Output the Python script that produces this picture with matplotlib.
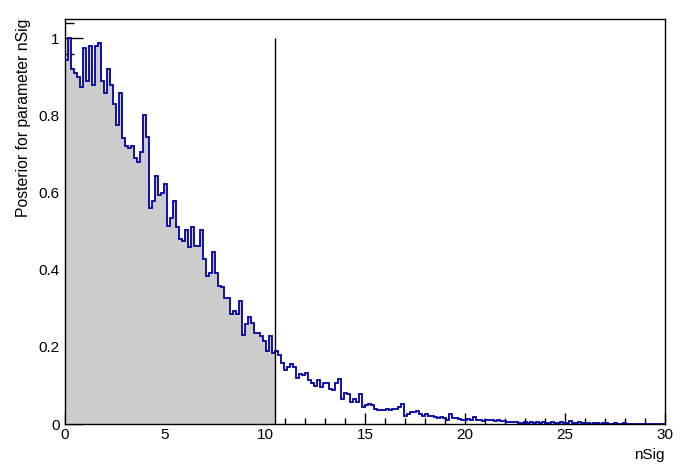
import numpy as np
import matplotlib
matplotlib.use("Agg")
import matplotlib.pyplot as plt
from matplotlib.ticker import MultipleLocator, FormatStrFormatter

plt.rcParams['font.family'] = ['Liberation Sans', 'DejaVu Sans']

# posterior histogram, 200 bins of width 0.15 on [0, 30]
x_min, x_max = 0.0, 30.0
posterior = [
    0.945, 1.0, 0.92, 0.91, 0.90, 0.875, 0.974, 0.89, 0.98, 0.88,
    0.98, 0.987, 0.89, 0.857, 0.92, 0.88, 0.83, 0.775, 0.857, 0.742,
    0.72, 0.716, 0.72, 0.69, 0.679, 0.705, 0.80, 0.743, 0.56, 0.577,
    0.642, 0.595, 0.598, 0.623, 0.514, 0.534, 0.577, 0.511, 0.48, 0.474,
    0.502, 0.459, 0.512, 0.462, 0.462, 0.504, 0.428, 0.383, 0.391, 0.445,
    0.391, 0.358, 0.356, 0.326, 0.326, 0.285, 0.292, 0.285, 0.32, 0.231,
    0.26, 0.277, 0.261, 0.237, 0.237, 0.227, 0.214, 0.188, 0.227, 0.184,
    0.19, 0.178, 0.159, 0.14, 0.147, 0.155, 0.149, 0.119, 0.13, 0.127,
    0.131, 0.113, 0.106, 0.099, 0.113, 0.095, 0.106, 0.106, 0.092, 0.087,
    0.106, 0.116, 0.064, 0.08, 0.077, 0.056, 0.064, 0.058, 0.078, 0.045,
    0.048, 0.052, 0.048, 0.038, 0.036, 0.037, 0.036, 0.039, 0.037, 0.040,
    0.039, 0.044, 0.051, 0.022, 0.025, 0.030, 0.032, 0.034, 0.027, 0.022,
    0.025, 0.022, 0.020, 0.017, 0.016, 0.017, 0.016, 0.010, 0.027, 0.015,
    0.015, 0.013, 0.011, 0.011, 0.013, 0.010, 0.018, 0.010, 0.010, 0.007,
    0.010, 0.010, 0.011, 0.007, 0.010, 0.007, 0.007, 0.004, 0.006, 0.004,
    0.004, 0.003, 0.003, 0.004, 0.003, 0.005, 0.003, 0.004, 0.002, 0.004,
    0.003, 0.003, 0.005, 0.002, 0.003, 0.004, 0.002, 0.003, 0.008, 0.003,
    0.002, 0.004, 0.002, 0.003, 0.002, 0.001, 0.003, 0.002, 0.001, 0.002,
    0.002, 0.001, 0.001, 0.002, 0.001, 0.001, 0.002, 0.001, 0.001, 0.001,
    0.0, 0.001, 0.001, 0.0, 0.001, 0.0, 0.0, 0.001, 0.0, 0.0,
]
upper_limit = 10.5
x_ticks = [0, 5, 10, 15, 20, 25, 30]
y_ticks = [0, 0.2, 0.4, 0.6, 0.8, 1.0]

values = np.array(posterior)
edges = np.linspace(x_min, x_max, len(values) + 1)
n_in = int(np.searchsorted(edges, upper_limit))

fig = plt.figure(figsize=(6.9, 4.69), dpi=100)
ax = fig.add_axes([65 / 690, 1 - 424 / 469, 600 / 690, (424 - 19) / 469])

# shaded interval
ax.stairs(values[:n_in], edges[:n_in + 1], fill=True, color='#cccccc', zorder=3)
# posterior outline
ax.stairs(values, edges, baseline=None, color='#0000a6', linewidth=1.3, zorder=4)
# upper limit line
ax.vlines(upper_limit, 0, values.max(), color='black', linewidth=1, zorder=4)

ax.set_xlim(x_min, x_max)
ax.set_ylim(0, 1.05)
ax.set_xticks(x_ticks)
ax.set_yticks(y_ticks)
ax.yaxis.set_major_formatter(FormatStrFormatter('%g'))
ax.xaxis.set_minor_locator(MultipleLocator(1))
ax.yaxis.set_minor_locator(MultipleLocator(0.04))
ax.tick_params(axis='x', which='major', direction='in', length=8, width=1, labelsize=11, pad=3)
ax.tick_params(axis='x', which='minor', direction='in', length=4, width=1)
ax.tick_params(axis='y', which='major', direction='in', length=13, width=1, labelsize=11, pad=4)
ax.tick_params(axis='y', which='minor', direction='in', length=6.5, width=1)

for s in ax.spines.values():
    s.set_linewidth(1)
    s.set_zorder(5)

ax.set_xlabel('nSig', loc='right', fontsize=11, labelpad=4)
ax.set_ylabel('Posterior for parameter nSig', loc='top', fontsize=11.3, labelpad=5)

fig.savefig('out.png', dpi=100)
